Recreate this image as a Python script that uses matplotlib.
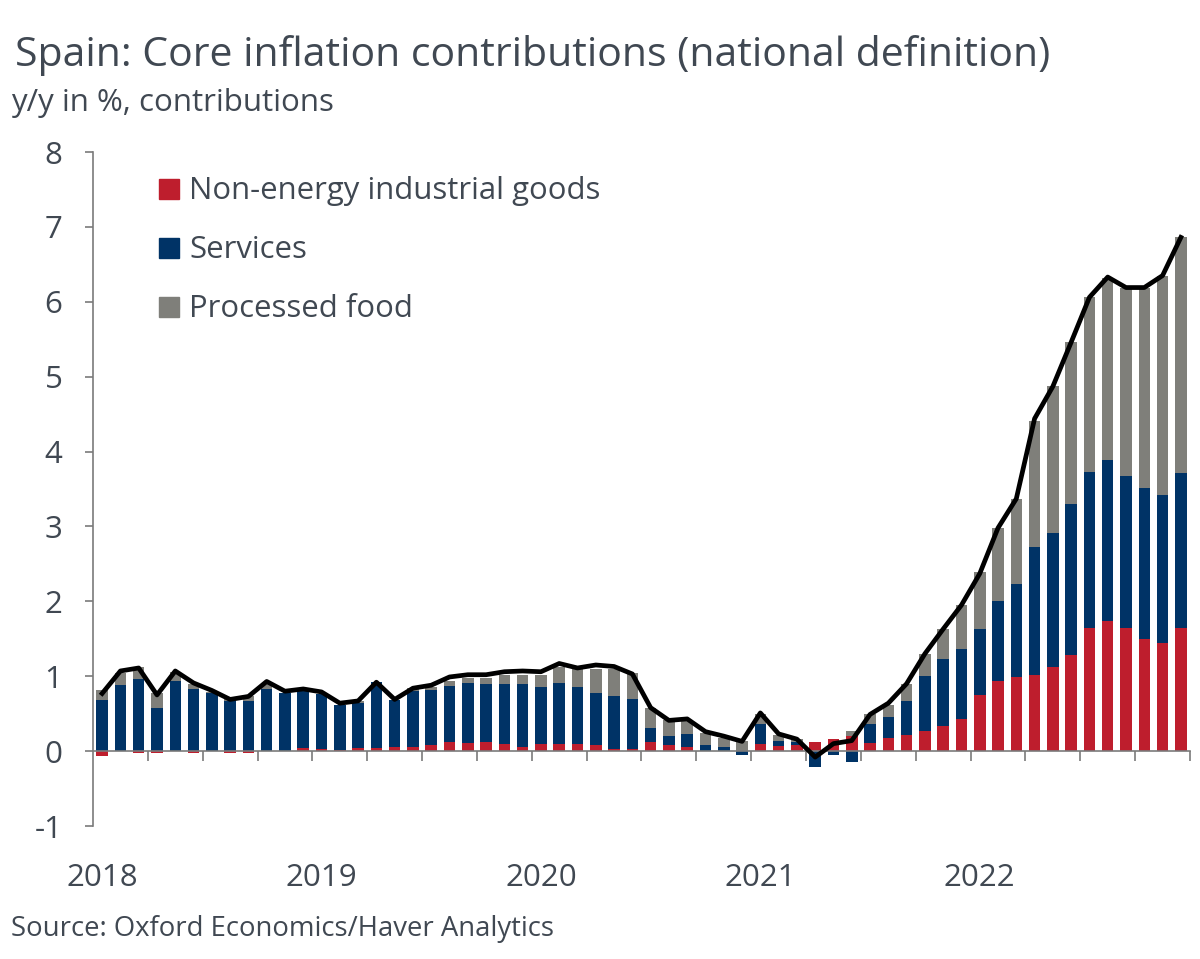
import numpy as np
import matplotlib.pyplot as plt
import matplotlib.transforms as mtransforms
from matplotlib.patches import Rectangle

plt.rcParams['font.family'] = ['Open Sans', 'DejaVu Sans']
plt.rcParams['axes.unicode_minus'] = False

# monthly data, Jan 2018 - Dec 2022 (y/y in %, contributions)
years = ['2018', '2019', '2020', '2021', '2022']
labels = ['Non-energy industrial goods', 'Services', 'Processed food']

neig = [-0.06, 0.00, -0.02, -0.02, 0.00, -0.02, 0.00, -0.03, -0.02, 0.00,
        0.00, 0.04, 0.03, 0.02, 0.04, 0.04, 0.05, 0.05, 0.08, 0.12,
        0.11, 0.12, 0.10, 0.05, 0.10, 0.10, 0.10, 0.08, 0.03, 0.03,
        0.12, 0.08, 0.05, 0.00, 0.00, 0.00, 0.10, 0.07, 0.08, 0.12,
        0.16, 0.20, 0.11, 0.17, 0.21, 0.27, 0.34, 0.43, 0.75, 0.93,
        0.99, 1.01, 1.12, 1.29, 1.65, 1.74, 1.65, 1.50, 1.44, 1.64]

services = [0.68, 0.88, 0.96, 0.58, 0.93, 0.83, 0.77, 0.67, 0.67, 0.83,
            0.77, 0.76, 0.73, 0.59, 0.60, 0.88, 0.63, 0.75, 0.74, 0.75,
            0.80, 0.77, 0.79, 0.85, 0.75, 0.81, 0.75, 0.70, 0.70, 0.66,
            0.19, 0.12, 0.18, 0.08, 0.06, -0.05, 0.26, 0.07, 0.04, -0.21,
            -0.05, -0.14, 0.25, 0.29, 0.46, 0.73, 0.89, 0.94, 0.88, 1.07,
            1.24, 1.72, 1.79, 2.01, 2.08, 2.15, 2.02, 2.02, 1.98, 2.08]

food = [0.13, 0.16, 0.16, 0.19, 0.13, 0.07, 0.02, 0.02, 0.06, 0.07,
        0.01, 0.01, 0.00, 0.00, 0.03, 0.00, 0.00, 0.04, 0.04, 0.07,
        0.07, 0.08, 0.12, 0.12, 0.17, 0.21, 0.24, 0.32, 0.36, 0.35,
        0.27, 0.21, 0.18, 0.16, 0.11, 0.14, 0.14, 0.07, 0.04, 0.00,
        0.00, 0.07, 0.14, 0.16, 0.22, 0.30, 0.40, 0.58, 0.76, 0.98,
        1.14, 1.68, 1.97, 2.16, 2.33, 2.43, 2.52, 2.67, 2.93, 3.14]

total = [0.77, 1.07, 1.11, 0.75, 1.07, 0.91, 0.81, 0.69, 0.73, 0.93,
         0.80, 0.83, 0.79, 0.64, 0.67, 0.92, 0.69, 0.84, 0.88, 0.99,
         1.02, 1.02, 1.06, 1.07, 1.06, 1.17, 1.11, 1.15, 1.13, 1.03,
         0.58, 0.41, 0.43, 0.26, 0.20, 0.13, 0.51, 0.23, 0.16, -0.08,
         0.10, 0.14, 0.49, 0.64, 0.90, 1.30, 1.63, 1.95, 2.37, 2.98,
         3.37, 4.44, 4.87, 5.46, 6.06, 6.33, 6.19, 6.19, 6.35, 6.86]

colors = ['#BE1E2D', '#003366', '#7F7F7A']
txt = '#404852'
axcol = '#7A7A7A'

fig = plt.figure(figsize=(12, 9.59), dpi=100)
ax = fig.add_axes([93/1200, 133/959, 1097/1200, 674/959])

x = np.arange(len(total))
pos = np.zeros(len(x))
neg = np.zeros(len(x))
for vals, c in zip([neig, services, food], colors):
    v = np.array(vals)
    bot = np.where(v >= 0, pos, neg)
    ax.bar(x, v, width=0.63, bottom=bot, color=c, linewidth=0)
    pos = pos + np.where(v >= 0, v, 0)
    neg = neg + np.where(v < 0, v, 0)

ax.plot(x, total, color='black', lw=3.4, zorder=5)

ax.set_xlim(-0.5, len(x) - 0.5)
ax.set_ylim(-1, 8)
ax.set_yticks(range(-1, 9))
ax.tick_params(axis='y', length=6, width=1.2, color=axcol, labelsize=22.5,
               labelcolor=txt, pad=16)
ax.set_xticks(np.arange(2.5, 60, 3))
ax.set_xticklabels([])
ax.tick_params(axis='x', length=7, width=1.2, color=axcol)
ax.spines['bottom'].set_position(('data', 0))
for s in ['top', 'right']:
    ax.spines[s].set_visible(False)
for s in ['left', 'bottom']:
    ax.spines[s].set_color(axcol)
    ax.spines[s].set_linewidth(1.2)

trans = mtransforms.blended_transform_factory(ax.transData, fig.transFigure)
for i, yr in enumerate(years):
    ax.text(i * 12, 1 - 886/959, yr, transform=trans, ha='center',
            va='baseline', fontsize=22.5, color=txt)

# legend
for k, (lab, c) in enumerate(zip(labels, colors)):
    yb = [199, 258, 317][k]
    fig.patches.append(Rectangle((159/1200, 1 - (yb)/959), 20/1200, 20/959,
                                 transform=fig.transFigure, color=c))
    fig.text(189/1200, 1 - yb/959, lab, fontsize=22.4, color=txt,
             va='baseline', ha='left')

fig.text(15/1200, 1 - 66/959, 'Spain: Core inflation contributions (national definition)',
         fontsize=29.5, color=txt, va='baseline')
fig.text(11/1200, 1 - 111/959, 'y/y in %, contributions', fontsize=22.5,
         color=txt, va='baseline')
fig.text(11/1200, 1 - 936/959, 'Source: Oxford Economics/Haver Analytics',
         fontsize=19.8, color=txt, va='baseline')

fig.savefig('out.png', dpi=100)
